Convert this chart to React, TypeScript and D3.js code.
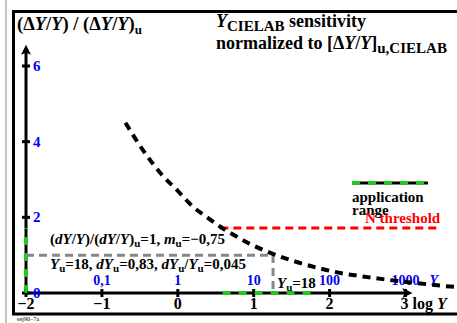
import React from 'react';
import * as d3 from 'd3';

// sensitivity curve (x = log Y, y = (dY/Y)/(dY/Y)u)
const curveLogY = [-0.69, -0.45, -0.23, 0.0, 0.2, 0.4, 0.56, 0.69, 0.95, 1.22, 1.6, 2.14, 2.5, 2.8, 3.2, 3.59, 3.72];
const curveRatio = [4.5, 3.75, 3.17, 2.7, 2.28, 1.98, 1.75, 1.59, 1.3, 1.06, 0.8, 0.53, 0.42, 0.34, 0.25, 0.17, 0.15];

const xTicks = [-2, -1, 0, 1, 2, 3];
const xTickLabels = ['\u22122', '\u22121', '0', '1', '2', '3'];
const linLogY = [-1, 0, 1, 2, 3];
const linLabels = ['0,1', '1', '10', '100', '1000'];
const yTicks = [0, 2, 4, 6];
const yTickLabels = ['0', '2', '4', '6'];

const refLogY = 1.255; // log 18
const refRatio = 1;
const thresholdRatio = 1.72;
const thresholdLogY = [0.56, 3.46];
const appRangeLogY = [0.59, 1.85];
const appRangeRatio = [0, 1.72];

const GREEN = '#00dd00';
const BLUE = '#0000ee';
const RED = '#ff0000';
const FONT = '"Liberation Serif", "Times New Roman", serif';

const Sub = ({ t, size = 11, d = 3 }: { t: string; size?: number; d?: number }) => (
  <tspan fontSize={size} dy={d}>
    {t}
  </tspan>
);

export default function App() {
  const x = d3.scaleLinear().domain([-2, 3]).range([26, 405.5]);
  const y = d3.scaleLinear().domain([0, 6]).range([293, 66]);

  const line = d3
    .line<number>()
    .x((d, i) => x(curveLogY[i]))
    .y((d) => y(d))
    .curve(d3.curveMonotoneX);

  const x0 = x(-2);
  const y0 = y(0);

  return (
    <svg
      width={457}
      height={323}
      style={{ position: 'absolute', left: 0, top: 0, background: '#fff' }}
      fontFamily={FONT}
      fontWeight="bold"
    >
      {/* frame */}
      <line x1={6} y1={0} x2={6} y2={323} stroke="#888" strokeWidth={1} />
      <path d="M457,11.5 H13.5 V314 H457" fill="none" stroke="#000" strokeWidth={3} />
      <text x={17} y={321} fontSize={6} fontWeight="normal">eej90−7a</text>

      {/* titles */}
      <text x={17} y={30} fontSize={18.5}>
        (Δ<tspan fontStyle="italic">Y</tspan>/<tspan fontStyle="italic">Y</tspan>) / (Δ
        <tspan fontStyle="italic">Y</tspan>/<tspan fontStyle="italic">Y</tspan>)
        <Sub t="u" size={13} d={4} />
      </text>
      <text x={216} y={27} fontSize={18}>
        <tspan fontStyle="italic">Y</tspan>
        <Sub t="CIELAB" size={15} d={4} />
        <tspan dy={-4}> sensitivity</tspan>
      </text>
      <text x={216} y={49} fontSize={18}>
        normalized to [Δ<tspan fontStyle="italic">Y</tspan>/<tspan fontStyle="italic">Y</tspan>]
        <Sub t="u,CIELAB" size={15} d={4} />
      </text>

      {/* axes */}
      <line x1={x0} y1={y0} x2={x(3) + 1} y2={y0} stroke="#000" strokeWidth={3} />
      <path d={`M${x(3) + 7},${y0} L${x(3) - 3},${y0 - 5} L${x(3) - 1},${y0} L${x(3) - 3},${y0 + 5} Z`} fill="#000" />
      <line x1={x0} y1={y0} x2={x0} y2={y(6.4)} stroke="#000" strokeWidth={3} />
      <path d={`M${x0},${y(6.4) - 6} L${x0 - 5},${y(6.4) + 4} L${x0},${y(6.4) + 2} L${x0 + 5},${y(6.4) + 4} Z`} fill="#000" />

      {xTicks.map((t, i) => (
        <g key={`xt${t}`}>
          <line x1={x(t)} x2={x(t)} y1={y0 - 4} y2={y0 + 4} stroke="#000" strokeWidth={3} />
          <text x={x(t)} y={309} fontSize={16} textAnchor={t === 3 ? 'start' : 'middle'} dx={t === 3 ? -5 : 0}>
            {xTickLabels[i]}
            {t === 3 && (
              <>
                {' log '}
                <tspan fontStyle="italic">Y</tspan>
              </>
            )}
          </text>
        </g>
      ))}
      {yTicks.map((t, i) => (
        <g key={`yt${t}`}>
          <line x1={x0 - 4} x2={x0 + 4} y1={y(t)} y2={y(t)} stroke="#000" strokeWidth={3} />
          <text x={x0 + 7} y={y(t) + 5} fontSize={15} fill={BLUE}>
            {yTickLabels[i]}
          </text>
        </g>
      ))}
      {linLogY.map((t, i) => (
        <text key={`ll${t}`} x={x(t)} y={285} fontSize={14} fill={BLUE} textAnchor="middle">
          {linLabels[i]}
        </text>
      ))}
      <text x={x(3) + 24} y={285} fontSize={14} fill={BLUE} fontStyle="italic">Y</text>

      {/* application range on the axes */}
      <line x1={x(appRangeLogY[0])} x2={x(appRangeLogY[1])} y1={y0} y2={y0} stroke={GREEN} strokeWidth={3} strokeDasharray="8 8" />
      <line x1={x0} x2={x0} y1={y(appRangeRatio[0])} y2={y(appRangeRatio[1])} stroke={GREEN} strokeWidth={3} strokeDasharray="8 8" />

      {/* reference lines */}
      <path
        d={`M${x0},${y(refRatio)} H${x(refLogY)} V${y0}`}
        fill="none"
        stroke="#888"
        strokeWidth={3}
        strokeDasharray="8 5"
      />
      <line
        x1={x(thresholdLogY[0])}
        x2={x(thresholdLogY[1])}
        y1={y(thresholdRatio)}
        y2={y(thresholdRatio)}
        stroke={RED}
        strokeWidth={3}
        strokeDasharray="8 5"
      />

      {/* curve */}
      <path d={line(curveRatio) ?? ''} fill="none" stroke="#000" strokeWidth={4} strokeDasharray="8 6" />

      {/* legend */}
      <line x1={352} x2={428} y1={183} y2={183} stroke="#000" strokeWidth={3} />
      <line x1={352} x2={428} y1={183} y2={183} stroke={GREEN} strokeWidth={3} strokeDasharray="8 8" />
      <text x={352} y={202} fontSize={15}>application</text>
      <text x={352} y={215} fontSize={15}>range</text>
      <text x={365} y={223} fontSize={15} fill={RED}>N threshold</text>

      {/* annotations */}
      <text x={50} y={244} fontSize={15}>
        (<tspan fontStyle="italic">dY</tspan>/<tspan fontStyle="italic">Y</tspan>)/(
        <tspan fontStyle="italic">dY</tspan>/<tspan fontStyle="italic">Y</tspan>)
        <Sub t="u" />
        <tspan dy={-3}>=1, </tspan>
        <tspan fontStyle="italic">m</tspan>
        <Sub t="u" />
        <tspan dy={-3}>=−0,75</tspan>
      </text>
      <text x={50} y={269} fontSize={15}>
        <tspan fontStyle="italic">Y</tspan>
        <Sub t="u" />
        <tspan dy={-3}>=18, </tspan>
        <tspan fontStyle="italic">dY</tspan>
        <Sub t="u" />
        <tspan dy={-3}>=0,83, </tspan>
        <tspan fontStyle="italic">dY</tspan>
        <Sub t="u" />
        <tspan dy={-3}>/</tspan>
        <tspan fontStyle="italic">Y</tspan>
        <Sub t="u" />
        <tspan dy={-3}>=0,045</tspan>
      </text>
      <text x={277} y={288} fontSize={15}>
        <tspan fontStyle="italic">Y</tspan>
        <Sub t="u" />
        <tspan dy={-3}>=18</tspan>
      </text>
    </svg>
  );
}
